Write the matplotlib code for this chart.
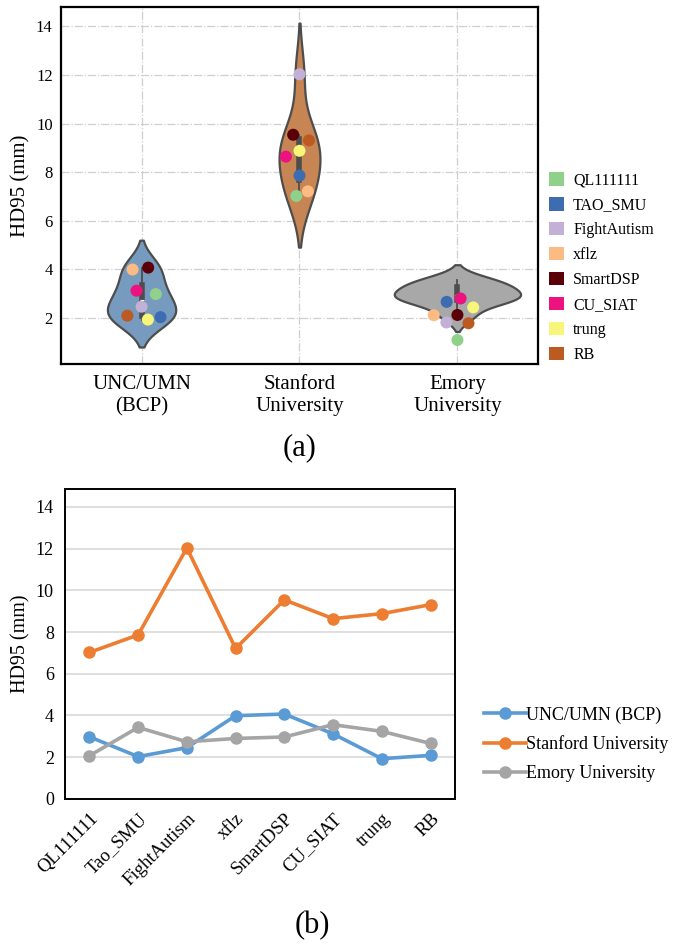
import numpy as np
import pandas as pd
import matplotlib
matplotlib.use('Agg')
import matplotlib.pyplot as plt
from matplotlib.patches import Patch
import seaborn as sns

plt.rcParams['font.family'] = ['Liberation Serif', 'DejaVu Serif']

# teams (x axis of panel b, legend of panel a)
teams = ['QL111111', 'Tao_SMU', 'FightAutism', 'xflz', 'SmartDSP', 'CU_SIAT', 'trung', 'RB']
legend_teams = ['QL111111', 'TAO_SMU', 'FightAutism', 'xflz', 'SmartDSP', 'CU_SIAT', 'trung', 'RB']
team_colors = ['#8fd18a', '#3d6cb0', '#c2b0d6', '#fdbb84', '#5a0008', '#ec1280', '#f7f57a', '#bd5a22']

sites = ['UNC/UMN\n(BCP)', 'Stanford\nUniversity', 'Emory\nUniversity']
site_names = ['UNC/UMN (BCP)', 'Stanford University', 'Emory University']

# HD95 per team per site (mm)
unc_hd95 = [2.98, 2.03, 2.46, 3.99, 4.07, 3.12, 1.93, 2.09]
stanford_hd95 = [7.02, 7.86, 12.03, 7.21, 9.54, 8.64, 8.88, 9.31]
emory_hd95 = [2.07, 3.43, 2.74, 2.90, 2.97, 3.56, 3.24, 2.66]
# dots drawn over the Emory violin in panel (a)
emory_dots = [1.09, 2.66, 1.81, 2.11, 2.12, 2.80, 2.43, 1.78]

# horizontal jitter of the dots in panel (a)
jitter_unc = [0.09, 0.12, 0.0, -0.057, 0.042, -0.032, 0.04, -0.09]
jitter_stanford = [-0.02, 0.0, 0.0, 0.053, -0.04, -0.086, 0.0, 0.06]
jitter_emory = [0.0, -0.068, -0.07, -0.15, 0.0, 0.02, 0.1, 0.07]

violin_colors = ['#6a9bca', '#d9823f', '#a8a8a8']
line_colors = ['#5b9bd5', '#ed7d31', '#a5a5a5']

fig = plt.figure(figsize=(6.75, 9.47), dpi=100)

# ---------------- (a) violin plot ----------------
ax1 = fig.add_axes([0.0904, 0.6156, 0.7066, 0.377])
df = pd.DataFrame({
    'site': np.repeat(sites, len(teams)),
    'hd95': unc_hd95 + stanford_hd95 + emory_hd95,
})
sns.violinplot(data=df, x='site', y='hd95', hue='site', palette=violin_colors,
               legend=False, linecolor='#4d4d4d', linewidth=1.6, inner='box',
               density_norm='area', common_norm=True,
               inner_kws=dict(box_width=4, whis_width=1.3, color='#4d4d4d'),
               ax=ax1, zorder=2)
for i, (vals, jit) in enumerate([(unc_hd95, jitter_unc), (stanford_hd95, jitter_stanford),
                                 (emory_dots, jitter_emory)]):
    ax1.scatter(np.array(jit) + i, vals, s=75, c=team_colors, zorder=5, linewidths=0)

ax1.set_xlim(-0.51, 2.51)
ax1.set_ylim(0.1, 14.8)
ax1.set_yticks(range(2, 15, 2))
ax1.set_xlabel('')
ax1.set_ylabel('HD95 (mm)', fontsize=15)
ax1.tick_params(axis='y', labelsize=12, length=0, pad=6)
ax1.tick_params(axis='x', labelsize=15, length=0, pad=8)
ax1.grid(True, color='#cfcfcf', linestyle='-.', linewidth=0.9, zorder=0)
ax1.set_axisbelow(True)
for sp in ax1.spines.values():
    sp.set_linewidth(1.6)
    sp.set_color('black')

handles = [Patch(facecolor=c, edgecolor='none') for c in team_colors]
ax1.legend(handles, legend_teams, loc='center left', bbox_to_anchor=(1.0, 0.27),
           frameon=False, fontsize=11.5, handlelength=0.9, handleheight=0.9,
           handletextpad=0.6, labelspacing=0.55, borderaxespad=0.3)

fig.text(0.444, 0.527, '(a)', ha='center', va='center', fontsize=22)

# ---------------- (b) line chart ----------------
ax2 = fig.add_axes([0.0963, 0.1563, 0.5777, 0.3273])
x = np.arange(len(teams))
for vals, name, c in zip([unc_hd95, stanford_hd95, emory_hd95], site_names, line_colors):
    ax2.plot(x, vals, color=c, linewidth=2.6, marker='o', markersize=8, label=name, zorder=3)

ax2.set_xlim(-0.5, len(teams) - 0.5)
ax2.set_ylim(0, 14.85)
ax2.set_yticks(range(0, 15, 2))
ax2.set_xticks(x)
ax2.set_xticklabels(teams, rotation=45, ha='right', rotation_mode='anchor')
ax2.set_ylabel('HD95 (mm)', fontsize=14.5)
ax2.tick_params(axis='y', labelsize=13, length=0, pad=8)
ax2.tick_params(axis='x', labelsize=13.5, length=0, pad=8)
ax2.yaxis.grid(True, color='#d9d9d9', linewidth=1.2, zorder=0)
ax2.set_axisbelow(True)
for sp in ax2.spines.values():
    sp.set_linewidth(1.4)
    sp.set_color('black')

ax2.legend(loc='center left', bbox_to_anchor=(1.056, 0.177), frameon=False,
           fontsize=13, handlelength=2.3, handletextpad=0.05, labelspacing=0.65,
           borderaxespad=0.0)

fig.text(0.463, 0.023, '(b)', ha='center', va='center', fontsize=22)

fig.savefig('out.png', dpi=100)
